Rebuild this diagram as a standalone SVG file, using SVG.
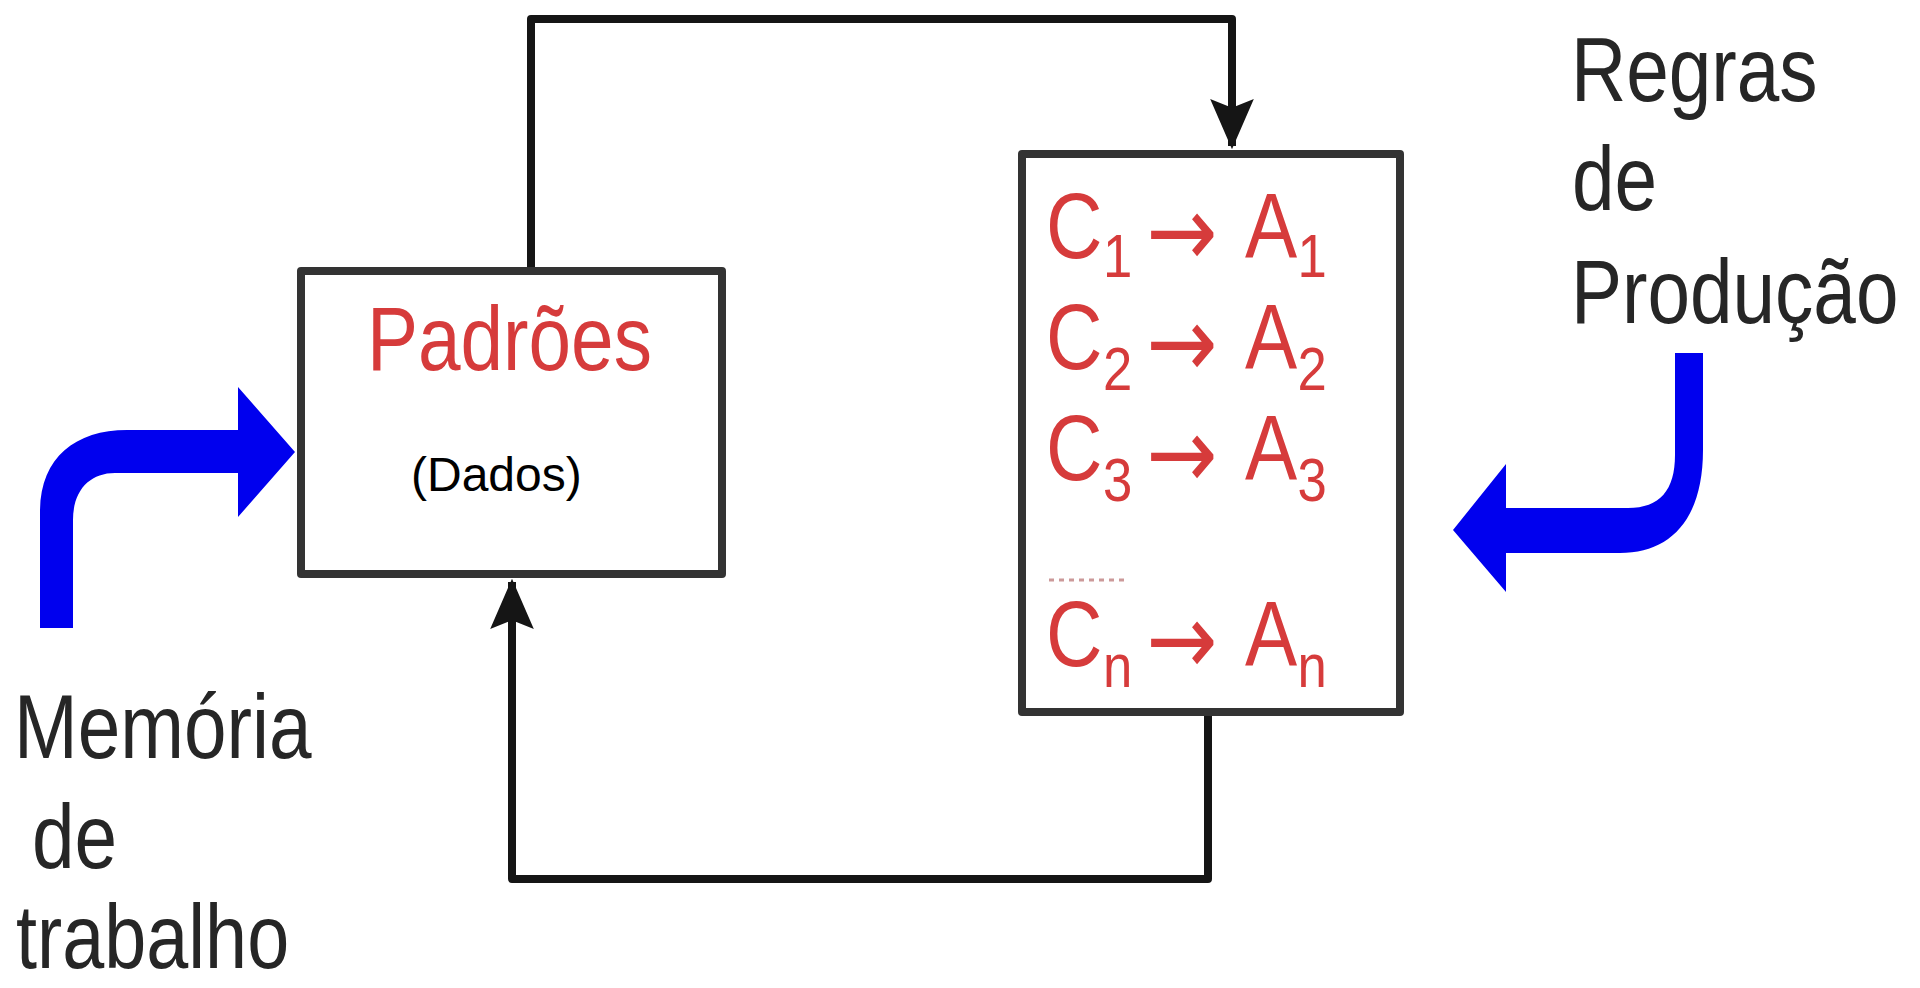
<svg xmlns="http://www.w3.org/2000/svg" width="1920" height="988" viewBox="0 0 1920 988">
<style>
.box{fill:#ffffff;stroke:#333333;stroke-width:8;stroke-linejoin:round}
.conn{fill:none;stroke:#151515;stroke-width:8;stroke-linejoin:round}
.blue{fill:#0000ee}
.lbl{font-family:"Liberation Sans",Arial,sans-serif;font-size:90px;fill:#262626}
.red{font-family:"Liberation Sans",Arial,sans-serif;fill:#d63b3b}
.rule{font-size:92px}
.sub{font-size:62px}
.arr{font-family:"DejaVu Sans",sans-serif;font-size:100px}
.dados{font-family:"Liberation Sans",Arial,sans-serif;font-size:48px;fill:#000000}
</style>
<defs>
<marker id="ah" markerUnits="userSpaceOnUse" markerWidth="60" markerHeight="60" viewBox="-50 -25 55 50" refX="0" refY="0" orient="auto">
<path d="M3,0 L-43,-20 L-35,0 L-43,20 Z" fill="#151515"/>
</marker>
</defs>
<rect width="1920" height="988" fill="#ffffff"/>
<g id="connectors">
<path class="conn" d="M531,271 V19 H1232 V146" marker-end="url(#ah)"/>
<path class="conn" d="M1208,712 V879 H512 V582" marker-end="url(#ah)"/>
</g>
<g id="padroes">
<rect class="box" x="301" y="271" width="421" height="303"/>
<text class="red" font-size="90" transform="translate(367,370) scale(0.85,1)">Padrões</text>
<text class="dados" x="411" y="491">(Dados)</text>
</g>
<g id="regras-box">
<rect class="box" x="1022" y="154" width="378" height="558"/>
<text class="red" transform="translate(1046,258) scale(0.85,1)"><tspan class="rule" x="0" y="0">C</tspan><tspan class="sub" x="67" y="19">1</tspan><tspan class="arr" x="118" y="8">→</tspan><tspan class="rule" x="234" y="0">A</tspan><tspan class="sub" x="296" y="19">1</tspan></text>
<text class="red" transform="translate(1046,369) scale(0.85,1)"><tspan class="rule" x="0" y="0">C</tspan><tspan class="sub" x="67" y="21">2</tspan><tspan class="arr" x="118" y="8">→</tspan><tspan class="rule" x="234" y="0">A</tspan><tspan class="sub" x="296" y="21">2</tspan></text>
<text class="red" transform="translate(1046,480) scale(0.85,1)"><tspan class="rule" x="0" y="0">C</tspan><tspan class="sub" x="67" y="21">3</tspan><tspan class="arr" x="118" y="8">→</tspan><tspan class="rule" x="234" y="0">A</tspan><tspan class="sub" x="296" y="21">3</tspan></text>
<line x1="1049" y1="580" x2="1125" y2="580" stroke="#c99" stroke-width="3" stroke-dasharray="5,5"/>
<text class="red" transform="translate(1046,666) scale(0.85,1)"><tspan class="rule" x="0" y="0">C</tspan><tspan class="sub" x="67" y="21">n</tspan><tspan class="arr" x="118" y="8">→</tspan><tspan class="rule" x="234" y="0">A</tspan><tspan class="sub" x="296" y="21">n</tspan></text>
</g>
<g id="memoria">
<path class="blue" d="M40,628 V512 C40,458 75,430 127,430 H238 V387 L295,452 L238,517 V473 H115 C90,473 73,490 73,520 V628 Z"/>
<text class="lbl" transform="translate(14,758) scale(0.85,1)">Memória</text>
<text class="lbl" transform="translate(32,868) scale(0.85,1)">de</text>
<text class="lbl" transform="translate(16,968) scale(0.84,1)">trabalho</text>
</g>
<g id="producao">
<path class="blue" d="M1675,353 H1703 V450 C1703,520 1670,553 1620,553 H1506 V592 L1453,530 L1506,464 V508 H1628 C1660,508 1675,490 1675,455 Z"/>
<text class="lbl" transform="translate(1571,101) scale(0.85,1)">Regras</text>
<text class="lbl" transform="translate(1572,210) scale(0.85,1)">de</text>
<text class="lbl" transform="translate(1571,323) scale(0.85,1)">Produção</text>
</g>
</svg>
